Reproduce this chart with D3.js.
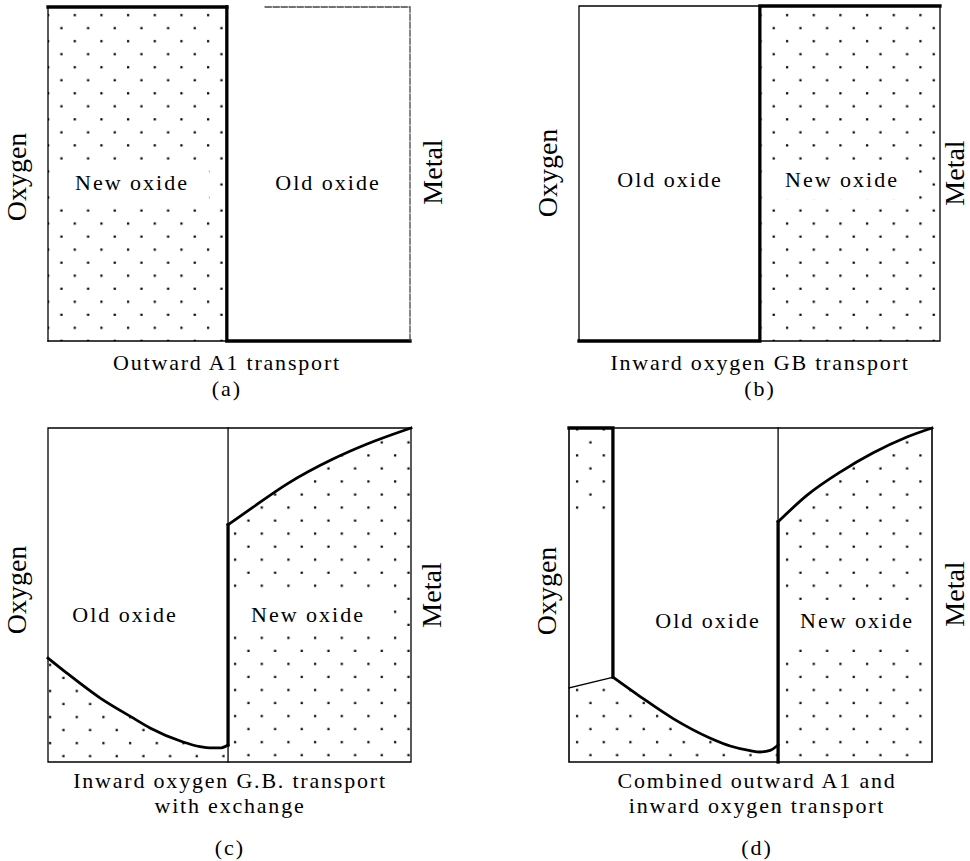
<!DOCTYPE html>
<html>
<head>
<meta charset="utf-8">
<script src="https://cdn.jsdelivr.net/npm/d3@7"></script>
<style>
  html, body { margin: 0; padding: 0; background: #fff; }
  svg { display: block; }
  text { font-family: "Liberation Serif", "Times New Roman", serif; fill: #000; }
</style>
</head>
<body>
<svg id="chart" width="970" height="861"></svg>
<script>
// ---------------- data (normalised: x = % across scale, oxygen side 0 -> metal side 100; y = % of height) ----------------
const panelTags = ["(a)", "(b)", "(c)", "(d)"];
const captionLines = [
  ["Outward A1 transport"],
  ["Inward oxygen GB transport"],
  ["Inward oxygen G.B. transport", "with exchange"],
  ["Combined outward A1 and", "inward oxygen transport"]
];
const leftLabels = ["New oxide", "Old oxide", "Old oxide", "Old oxide"];
const rightLabels = ["Old oxide", "New oxide", "New oxide", "New oxide"];
const gasSideLabel = "Oxygen";
const metalSideLabel = "Metal";
// old/new oxide boundary position in each panel
const interfaceX = [49.4, 50.1, 49.6, 57.6];
// (c) exchange fronts
const cUpperFront = [[49.6, 71.0], [56.5, 76.3], [65.8, 83.2], [78.5, 90.7], [87.9, 95.2], [100, 100]];
const cLowerFront = [[0, 31.1], [5.2, 26.6], [14.3, 19.2], [23.4, 13.2], [28.1, 10.2], [37.2, 6.0], [41.9, 4.6], [44.6, 4.2], [47.4, 4.2], [49.6, 5.1]];
// (d) combined transport
const dOuterX = 12.1;
const dOuterFoot = [[0, 22.2], [12.1, 25.4]];
const dLowerFront = [[12.1, 25.4], [19.6, 19.6], [28.7, 13.0], [38.8, 7.2], [44.4, 4.8], [49.9, 3.4], [52.6, 3.0], [55.4, 3.5], [57.6, 5.1]];
const dUpperFront = [[57.6, 71.9], [65.6, 79.9], [74.7, 86.8], [83.7, 92.5], [93.1, 97.3], [100, 100]];
const dStripDotLimit = 74.5;

// ---------------- layout / style ----------------
const frames = [
  { l: 48, r: 410, b: 341, t: 7 },
  { l: 579, r: 940, b: 341, t: 6 },
  { l: 48, r: 411, b: 762, t: 428 },
  { l: 569, r: 932, b: 762, t: 428 }
];
const innerPos = [
  { lx: 132, rx: 328, base: 190 },
  { lx: 670, rx: 842, base: 187 },
  { lx: 125, rx: 308, base: 622 },
  { lx: 708, rx: 857, base: 628 }
];
const sidePos = [
  { ox: 26, oy: 177, mx: 442, my: 172 },
  { ox: 557, oy: 173, mx: 964, my: 173 },
  { ox: 26, oy: 590, mx: 441, my: 595 },
  { ox: 556, oy: 591, mx: 964, my: 594 }
];
const captionPos = [
  { x: 227, bases: [370], tag: 396 },
  { x: 760, bases: [370], tag: 396 },
  { x: 230, bases: [788, 813], tag: 855 },
  { x: 757, bases: [788, 813], tag: 855 }
];
const THICK = 3.3, THIN = 1.3, CURVE = 2.8;
const DX = 26.67, DY = 13.03;
const INNER_FS = 22, INNER_LS = 2;
const SIDE_FS = 28;

// ---------------- drawing ----------------
const svg = d3.select("#chart");
const defs = svg.append("defs");

function dotPattern(id, ax, ay) {
  const p = defs.append("pattern").attr("id", id)
    .attr("patternUnits", "userSpaceOnUse")
    .attr("x", ax - 6).attr("y", ay - 6)
    .attr("width", DX).attr("height", 2 * DY);
  p.append("rect").attr("x", 5).attr("y", 5).attr("width", 2.2).attr("height", 2.2).attr("fill", "#000");
  p.append("rect").attr("x", 5 + DX / 2).attr("y", 5 + DY).attr("width", 2.2).attr("height", 2.2).attr("fill", "#000");
  return "url(#" + id + ")";
}

const scales = frames.map(f => ({
  x: d3.scaleLinear().domain([0, 100]).range([f.l, f.r]),
  y: d3.scaleLinear().domain([0, 100]).range([f.b, f.t])
}));

const CURVE_TYPE = d3.curveMonotoneX;
function regionPath(s, pre, curvePts) {
  let d = "M" + pre.map(p => s.x(p[0]) + "," + s.y(p[1])).join("L");
  if (curvePts && curvePts.length) {
    const cl = d3.line().x(p => s.x(p[0])).y(p => s.y(p[1])).curve(CURVE_TYPE);
    d += cl(curvePts).replace(/^M/, "L");
  }
  return d + "Z";
}
const linePath = (s, pts, curve) => d3.line().x(p => s.x(p[0])).y(p => s.y(p[1])).curve(curve || d3.curveLinear)(pts);

const gFill = svg.append("g");
const gBg = svg.append("g");
const gLines = svg.append("g").attr("fill", "none").attr("stroke", "#000").attr("stroke-linecap", "square");
const gText = svg.append("g");

// dotted regions
const sa = scales[0], sb = scales[1], sc = scales[2], sd = scales[3];
gFill.append("path").attr("d", regionPath(sa, [[0, 0], [interfaceX[0], 0], [interfaceX[0], 100], [0, 100]])).attr("fill", dotPattern("pa", 48, 15));
gFill.append("path").attr("d", regionPath(sb, [[interfaceX[1], 0], [100, 0], [100, 100], [interfaceX[1], 100]])).attr("fill", dotPattern("pb", 787, 15));
gFill.append("path").attr("d", regionPath(sc, [[interfaceX[2], 0], [0, 0]], cLowerFront)).attr("fill", dotPattern("pcl", 50, 743));
gFill.append("path").attr("d", regionPath(sc, [[100, 0], [interfaceX[2], 0]], cUpperFront)).attr("fill", dotPattern("pcr", 235, 742));
const pdl = dotPattern("pdl", 577, 742);
gFill.append("path").attr("d", regionPath(sd, [[interfaceX[3], 0], [0, 0], dOuterFoot[0]], dLowerFront)).attr("fill", pdl);
gFill.append("path").attr("d", regionPath(sd, [[0, dStripDotLimit], [0, 100], [dOuterX, 100], [dOuterX, dStripDotLimit]])).attr("fill", pdl);
gFill.append("path").attr("d", regionPath(sd, [[100, 0], [interfaceX[3], 0]], dUpperFront)).attr("fill", dotPattern("pdr", 787, 742));

// lines
function seg(s, pts, w, extra) {
  const p = gLines.append("path").attr("d", linePath(s, pts)).attr("stroke-width", w);
  if (extra) extra(p);
  return p;
}
// (a)
seg(sa, [[0, 0], [0, 100]], THIN);
seg(sa, [[0, 0], [interfaceX[0], 0]], THIN);
seg(sa, [[0, 100], [interfaceX[0], 100]], THICK);
seg(sa, [[interfaceX[0], 100], [interfaceX[0], 0], [100, 0]], THICK).attr("stroke-linejoin", "miter");
seg(sa, [[60, 100], [100, 100], [100, 0]], THIN, p => p.attr("stroke", "#444").attr("stroke-dasharray", "6,2"));
// (b)
seg(sb, [[0, 0], [0, 100], [interfaceX[1], 100]], THIN);
seg(sb, [[interfaceX[1], 0], [100, 0], [100, 100]], THIN);
seg(sb, [[0, 0], [interfaceX[1], 0], [interfaceX[1], 100], [100, 100]], THICK);
// (c)
seg(sc, [[0, 0], [100, 0], [100, 100], [0, 100], [0, 0]], THIN);
seg(sc, [[interfaceX[2], 0], [interfaceX[2], 100]], THIN);
seg(sc, [[interfaceX[2], cLowerFront[cLowerFront.length - 1][1]], cUpperFront[0]], THICK);
gLines.append("path").attr("d", linePath(sc, cUpperFront, CURVE_TYPE)).attr("stroke-width", CURVE);
gLines.append("path").attr("d", linePath(sc, cLowerFront, CURVE_TYPE)).attr("stroke-width", CURVE);
// (d)
seg(sd, [[0, 0], [100, 0], [100, 100], [0, 100], [0, 0]], 1.6);
seg(sd, [[0, 100], [dOuterX, 100], [dOuterX, dOuterFoot[1][1]]], THICK);
seg(sd, dOuterFoot, THIN);
seg(sd, [[interfaceX[3], 0], [interfaceX[3], 100]], THIN);
seg(sd, [[interfaceX[3], 0], dUpperFront[0]], THICK);
gLines.append("path").attr("d", linePath(sd, dUpperFront, CURVE_TYPE)).attr("stroke-width", CURVE);
gLines.append("path").attr("d", linePath(sd, dLowerFront, CURVE_TYPE)).attr("stroke-width", CURVE);

// text
function innerLabel(txt, x, base, dotted) {
  const t = gText.append("text").attr("x", x).attr("y", base)
    .attr("text-anchor", "middle").attr("font-size", INNER_FS)
    .attr("letter-spacing", INNER_LS).text(txt);
  if (dotted) {
    const w = t.node().getComputedTextLength();
    gBg.append("rect").attr("x", x - w / 2 - 20).attr("y", base - 25)
      .attr("width", w + 40).attr("height", 37).attr("fill", "#fff");
  }
}
frames.forEach((f, i) => {
  innerLabel(leftLabels[i], innerPos[i].lx, innerPos[i].base, leftLabels[i] === "New oxide");
  innerLabel(rightLabels[i], innerPos[i].rx, innerPos[i].base, rightLabels[i] === "New oxide");
  gText.append("text").attr("transform", `translate(${sidePos[i].ox},${sidePos[i].oy}) rotate(-90)`)
    .attr("text-anchor", "middle").attr("font-size", SIDE_FS).text(gasSideLabel);
  gText.append("text").attr("transform", `translate(${sidePos[i].mx},${sidePos[i].my}) rotate(-90)`)
    .attr("text-anchor", "middle").attr("font-size", SIDE_FS).text(metalSideLabel);
  captionLines[i].forEach((line, k) => {
    gText.append("text").attr("x", captionPos[i].x).attr("y", captionPos[i].bases[k])
      .attr("text-anchor", "middle").attr("font-size", INNER_FS).attr("letter-spacing", 1.8).text(line);
  });
  gText.append("text").attr("x", captionPos[i].x).attr("y", captionPos[i].tag)
    .attr("text-anchor", "middle").attr("font-size", INNER_FS).attr("letter-spacing", 2).text(panelTags[i]);
});
</script>
</body>
</html>
